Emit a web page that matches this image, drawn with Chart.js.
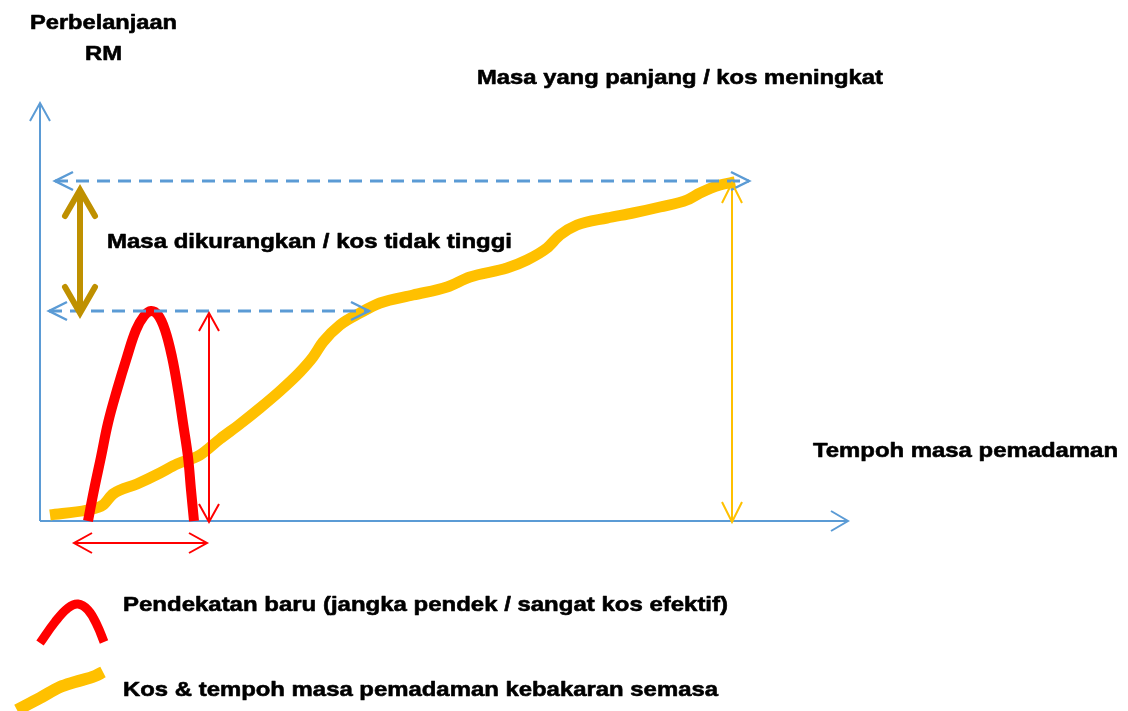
<!DOCTYPE html>
<html>
<head>
<meta charset="utf-8">
<script src="https://cdn.jsdelivr.net/npm/chart.js@4/dist/chart.umd.min.js"></script>
<style>
  body { margin: 0; background: #fff; }
  #wrap { width: 1128px; height: 711px; position: relative; }
</style>
</head>
<body>
<div id="wrap"><canvas id="chart"></canvas></div>
<script>
// data space: x = tempoh (time), y = perbelanjaan RM, origin at the axis corner
const newApproachX = [48, 54, 61, 68, 77, 87, 96, 104, 111, 118, 125, 132, 138, 143, 148, 151, 154];
const newApproachY = [0, 31, 64, 98, 131, 164, 191, 205, 210, 206, 191, 164, 131, 98, 64, 31, 0];

const currentX = [10, 47, 63, 73, 97, 120, 137, 160, 180, 200, 220, 240, 260, 273, 283, 300, 320, 340,
  373, 407, 430, 467, 487, 507, 520, 537, 567, 593, 620, 647, 660, 680, 695];
const currentY = [6, 11, 16, 27, 37, 48, 57, 66, 82, 97, 113, 130, 149, 164, 179, 196, 208, 218,
  226, 234, 244, 253, 261, 273, 286, 296, 303, 308, 314, 321, 328, 336, 339];

// legend swatches
const legendRedX = [0, 15, 28, 38, 48, 57, 64];
const legendRedY = [-122, -101, -87, -83, -89, -104, -121];
const legendGoldX = [-23, 0, 20, 35, 55, 63];
const legendGoldY = [-189, -177, -166, -161, -155, -151];

// arrows [x1, y1, x2, y2]
const axisYArrow = [0, 0, 0, 418];
const axisXArrow = [0, 0, 808, 0];
const longTimeArrow = [15, 340, 709, 340];
const shortTimeArrow = [9, 210, 329, 210];
const savingArrow = [40, 331, 40, 208];
const newCostArrow = [169, 208, 169, -1];
const newTimeArrow = [34, -22, 167, -22];
const oldCostArrow = [692, 338, 692, -1];

const labels = [
  { text: "Perbelanjaan", x: 63.5, y: 492, w: 147, align: "center" },
  { text: "RM", x: 63.5, y: 461, w: 37, align: "center" },
  { text: "Masa yang panjang / kos meningkat", x: 437, y: 437, w: 406 },
  { text: "Masa dikurangkan / kos tidak tinggi", x: 67, y: 273, w: 405 },
  { text: "Tempoh masa pemadaman", x: 773, y: 64, w: 305 },
  { text: "Pendekatan baru (jangka pendek / sangat kos efektif)", x: 83, y: -90, w: 605 },
  { text: "Kos & tempoh masa pemadaman kebakaran semasa", x: 83, y: -175, w: 595 }
];

const pts = (xs, ys) => xs.map((x, i) => ({ x: x, y: ys[i] }));
const seg = a => [{ x: a[0], y: a[1] }, { x: a[2], y: a[3] }];

function curve(data, color, width, order, tension) {
  const ds = {
    data: data, borderColor: color, borderWidth: width, pointRadius: 0,
    borderCapStyle: "butt", borderJoinStyle: "round",
    fill: false, clip: false, order: order
  };
  if (tension) ds.tension = tension;
  else ds.cubicInterpolationMode = "monotone";
  return ds;
}

function arrow(a, color, width, heads, order, extra) {
  return Object.assign({
    data: seg(a), borderColor: color, borderWidth: width, pointRadius: 0,
    tension: 0, fill: false, clip: false, order: order, heads: heads
  }, extra || {});
}

const arrowHeads = {
  id: "arrowHeads",
  afterDatasetsDraw(chart) {
    const ctx = chart.ctx;
    chart.data.datasets.forEach((ds, i) => {
      if (!ds.heads) return;
      const p = chart.getDatasetMeta(i).data;
      const a = p[0], b = p[p.length - 1];
      const h = ds.heads;
      ctx.save();
      ctx.strokeStyle = ds.borderColor;
      ctx.lineWidth = h.width || ds.borderWidth;
      ctx.lineCap = h.cap || "butt";
      ctx.lineJoin = "miter";
      const draw = (tip, from) => {
        const ang = Math.atan2(tip.y - from.y, tip.x - from.x);
        const bx = tip.x - Math.cos(ang) * h.len, by = tip.y - Math.sin(ang) * h.len;
        const nx = -Math.sin(ang) * h.half, ny = Math.cos(ang) * h.half;
        ctx.beginPath();
        ctx.moveTo(bx + nx, by + ny);
        ctx.lineTo(tip.x, tip.y);
        ctx.lineTo(bx - nx, by - ny);
        ctx.stroke();
      };
      if (h.end) draw(b, a);
      if (h.start) draw(a, b);
      ctx.restore();
    });
  }
};

const textLabels = {
  id: "textLabels",
  afterDraw(chart) {
    const ctx = chart.ctx;
    const xs = chart.scales.x, ys = chart.scales.y;
    ctx.save();
    ctx.fillStyle = "#000";
    ctx.strokeStyle = "#000";
    ctx.lineWidth = 0.6;
    ctx.lineJoin = "round";
    ctx.font = "bold 21px 'Liberation Sans', Arial, sans-serif";
    ctx.textBaseline = "alphabetic";
    labels.forEach(l => {
      const m = ctx.measureText(l.text).width;
      const k = l.w / m;
      let px = xs.getPixelForValue(l.x);
      const py = ys.getPixelForValue(l.y);
      if (l.align === "center") px -= l.w / 2;
      ctx.save();
      ctx.translate(px, py);
      ctx.scale(k, 1);
      ctx.fillText(l.text, 0, 0);
      ctx.strokeText(l.text, 0, 0);
      ctx.restore();
    });
    ctx.restore();
  }
};

const blue = "#5B9BD5";
const dash = { borderDash: [13, 8] };

new Chart(document.getElementById("chart"), {
  type: "line",
  data: {
    datasets: [
      arrow(longTimeArrow, blue, 3, { start: true, end: true, len: 18, half: 9, width: 2.5 }, 1, dash),
      arrow(shortTimeArrow, blue, 3, { start: true, end: true, len: 18, half: 9, width: 2.5 }, 1, dash),
      arrow(savingArrow, "#BF9000", 6, { start: true, end: true, len: 26, half: 15, cap: "round" }, 1),
      arrow(newCostArrow, "#FF0000", 2, { start: true, end: true, len: 18, half: 10 }, 2),
      arrow(newTimeArrow, "#FF0000", 2, { start: true, end: true, len: 18, half: 10 }, 2),
      arrow(oldCostArrow, "#FFC000", 2, { start: true, end: true, len: 20, half: 10 }, 2),
      curve(pts(newApproachX, newApproachY), "#FF0000", 10, 3, 0.4),
      curve(pts(legendRedX, legendRedY), "#FF0000", 9, 3, 0.4),
      curve(pts(currentX, currentY), "#FFC000", 11, 4),
      curve(pts(legendGoldX, legendGoldY), "#FFC000", 12, 4),
      arrow(axisYArrow, blue, 2, { end: true, len: 18, half: 10 }, 5),
      arrow(axisXArrow, blue, 2, { end: true, len: 17, half: 10 }, 5)
    ]
  },
  options: {
    responsive: true,
    maintainAspectRatio: false,
    animation: false,
    layout: { padding: 0 },
    plugins: { legend: { display: false }, tooltip: { enabled: false } },
    scales: {
      x: { type: "linear", min: -40, max: 1088, display: false },
      y: { type: "linear", min: -190, max: 521, display: false }
    }
  },
  plugins: [arrowHeads, textLabels]
});
</script>
</body>
</html>
